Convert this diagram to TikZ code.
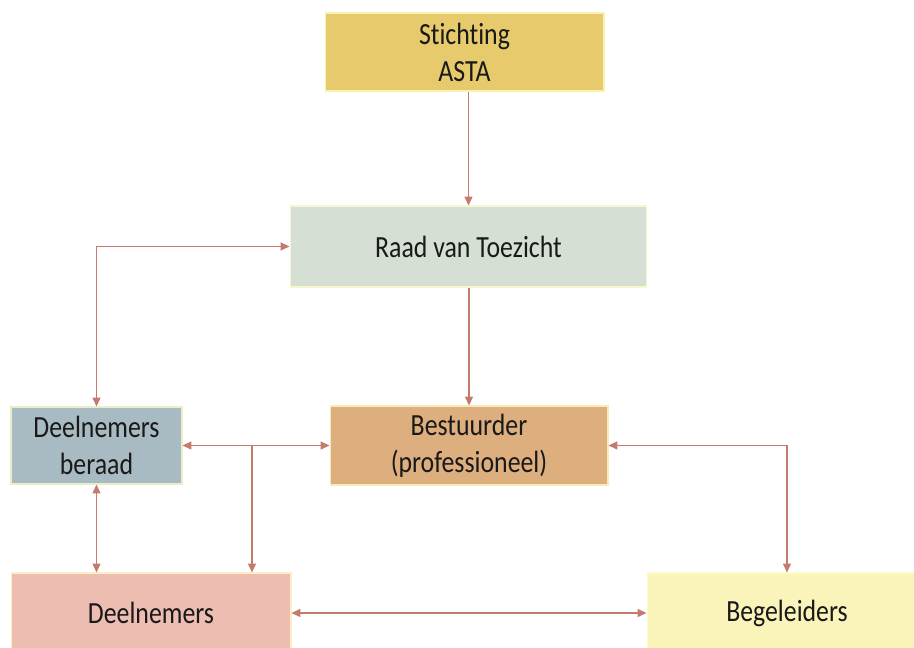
\documentclass[tikz,border=0pt]{standalone}
\usepackage{fontspec}
\setmainfont{Carlito}[FakeStretch=0.84, RawFeature=-liga]
\usetikzlibrary{arrows.meta}
\definecolor{lijn}{HTML}{C57A6E}
\definecolor{goud}{HTML}{E6CA6C}
\definecolor{grijsgroen}{HTML}{D5DFD3}
\definecolor{blauwgrijs}{HTML}{A8BAC2}
\definecolor{tan}{HTML}{DDAE7E}
\definecolor{roze}{HTML}{EEBDB1}
\definecolor{lichtgeel}{HTML}{FAF3BA}

\begin{document}
\begin{tikzpicture}[x=0.02cm,y=-0.02cm,
    blok/.style={fill=#1, draw=#1!60!yellow!40!white, line width=0.6pt, align=center, inner sep=0pt,
      text=black!90, font=\fontsize{17.5}{21}\selectfont},
    pijl/.style={draw=lijn, line width=0.7pt, -{Triangle[length=5pt,width=4.5pt]}},
    tweepijl/.style={pijl, {Triangle[length=5pt,width=4.5pt]}-{Triangle[length=5pt,width=4.5pt]}}]
    \clip (0,0) rectangle (914,648);
    \fill[white] (0,0) rectangle (914,648);
    \node[blok=goud, minimum width=5.58cm, minimum height=1.56cm] (asta) at (464.5,52) {Stichting\\ASTA};
    \node[blok=grijsgroen, minimum width=7.14cm, minimum height=1.62cm] (raad) at (468.5,246.5) {Raad van Toezicht};
    \node[blok=blauwgrijs, minimum width=3.42cm, minimum height=1.54cm] (beraad) at (96.5,445.5) {Deelnemers\\beraad};
    \node[blok=tan, minimum width=5.56cm, minimum height=1.58cm] (bestuur) at (469,445.5) {Bestuurder\\(professioneel)};
    \node[blok=roze, minimum width=5.6cm, minimum height=1.6cm] (deeln) at (151,613) {Deelnemers};
    \node[blok=lichtgeel, minimum width=5.6cm, minimum height=1.6cm] (begel) at (787,613) {Begeleiders};
    \coordinate (tak) at (252,445.5);
    \draw[pijl] (asta.south -| raad) -- (raad.north);
    \draw[pijl] (raad.south -| bestuur) -- (bestuur.north);
    \draw[tweepijl] (raad.west) -| (beraad.north);
    \draw[tweepijl] (beraad.east) -- (bestuur.west);
    \draw[pijl] (tak) -- (tak |- deeln.north);
    \draw[tweepijl] (beraad.south) -- (beraad.south |- deeln.north);
    \draw[tweepijl] (bestuur.east) -| (begel.north);
    \draw[tweepijl] (deeln.east) -- (begel.west);
\end{tikzpicture}
\end{document}
